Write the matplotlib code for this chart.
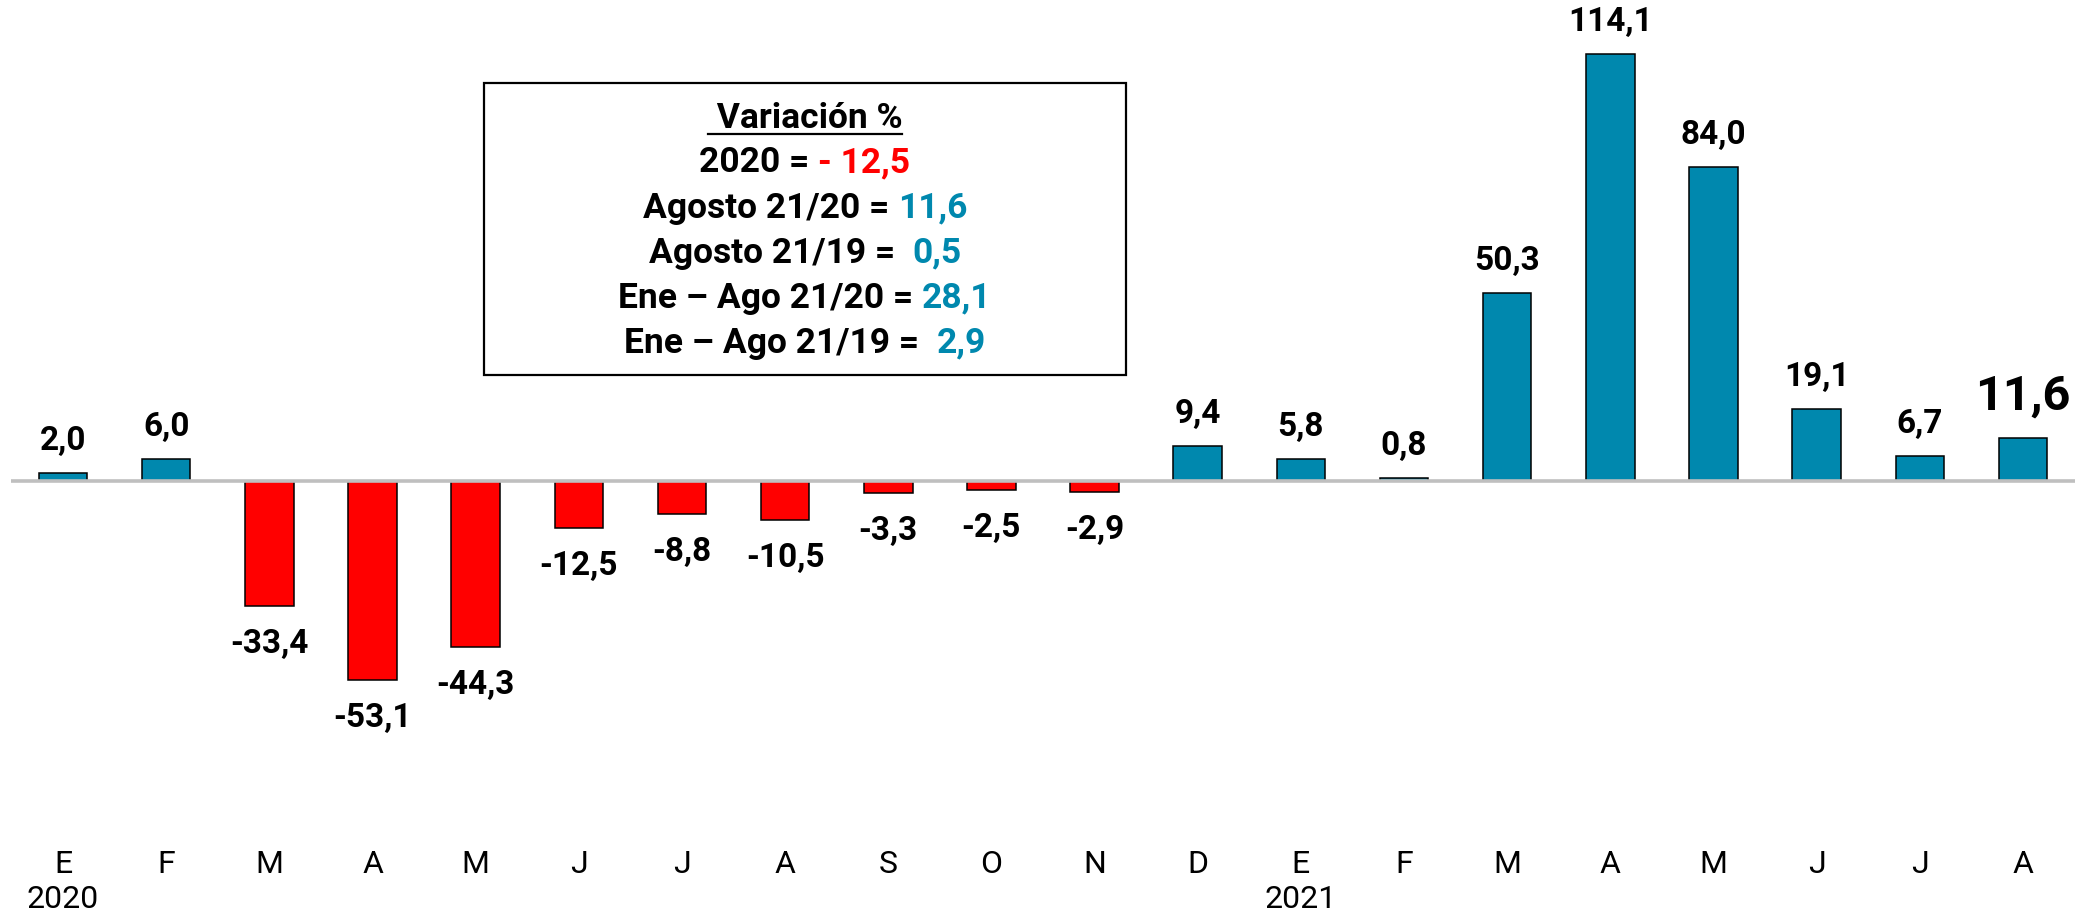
import numpy as np
import matplotlib
matplotlib.use("Agg")
import matplotlib.pyplot as plt
from matplotlib.patches import Rectangle
from matplotlib.lines import Line2D

# data
months = ["E", "F", "M", "A", "M", "J", "J", "A", "S", "O", "N", "D",
          "E", "F", "M", "A", "M", "J", "J", "A"]
years = {0: "2020", 12: "2021"}
values = [2.0, 6.0, -33.4, -53.1, -44.3, -12.5, -8.8, -10.5, -3.3, -2.5, -2.9, 9.4,
          5.8, 0.8, 50.3, 114.1, 84.0, 19.1, 6.7, 11.6]

summary_labels = ["2020 = ", "Agosto 21/20 = ", "Agosto 21/19 =  ",
                  "Ene \u2013 Ago 21/20 = ", "Ene \u2013 Ago 21/19 =  "]
summary_values = ["- 12,5", "11,6", "0,5", "28,1", "2,9"]

BLUE = "#0088AE"
RED = "#FF0000"

W, H = 2082, 913
fig = plt.figure(figsize=(W / 100, H / 100), dpi=100)

# axes placed so that 0 sits at y=481px and 1 unit = ~3.74px
ax = fig.add_axes([11.4 / W, 0.0838, 2063.2 / W, 0.9018])
x = np.arange(len(values))
colors = [BLUE if v >= 0 else RED for v in values]
ax.bar(x, values, width=0.47, color=colors, edgecolor="black", linewidth=1.1, zorder=2)
ax.axhline(0, color="#BFBFBF", linewidth=2.6, zorder=3)
ax.set_xlim(-0.5, len(values) - 0.5)
ax.set_ylim(-95, 125)

for s in ax.spines.values():
    s.set_visible(False)
ax.set_yticks([])
ticklabels = [m + ("\n" + years[i] if i in years else "") for i, m in enumerate(months)]
ax.set_xticks(x)
ax.set_xticklabels(ticklabels, fontsize=23, family="Roboto", linespacing=1.25, va="top")
ax.tick_params(axis="x", length=0, pad=10)

# value labels
for i, v in enumerate(values):
    txt = f"{v:.1f}".replace(".", ",")
    big = i == len(values) - 1
    off = (41 if big else 32) if v >= 0 else -38
    ax.annotate(txt, xy=(i, v), xytext=(0, off), textcoords="offset pixels",
                ha="center", va="center", fontsize=35 if big else 24,
                family="Roboto", fontweight="bold", color="black")

# summary box
def px(xp, yp):
    return xp / W, 1 - yp / H

box_l, box_r, box_t, box_b = 484, 1126, 83, 375
fig.patches.append(Rectangle(px(box_l, box_b), (box_r - box_l) / W, (box_b - box_t) / H,
                             transform=fig.transFigure, facecolor="white",
                             edgecolor="black", linewidth=1.6, zorder=5))

fig.canvas.draw()
renderer = fig.canvas.get_renderer()
kw = dict(fontsize=25.5, family="Roboto", fontweight="bold")

def width(s):
    t1 = fig.text(0, 0, "|" + s + "|", **kw)
    t2 = fig.text(0, 0, "||", **kw)
    w = t1.get_window_extent(renderer).width - t2.get_window_extent(renderer).width
    t1.remove()
    t2.remove()
    return w

cx = (box_l + box_r) / 2
row_y = [118, 163, 208, 253, 298, 343]

# header, underlined
head = " Variaci\u00f3n %"
hw = width(head)
fig.text(*px(cx - hw / 2, row_y[0]), head, ha="left", va="center", zorder=6, **kw)
fig.lines.append(Line2D([(cx - hw / 2) / W, (cx + hw / 2) / W], [1 - 134 / H] * 2,
                        transform=fig.transFigure, color="black", linewidth=1.6, zorder=6))

for j, (lab, val) in enumerate(zip(summary_labels, summary_values)):
    w1 = width(lab)
    w2 = width(val)
    x0 = cx - (w1 + w2) / 2
    y = row_y[j + 1]
    fig.text(*px(x0, y), lab, ha="left", va="center", color="black", zorder=6, **kw)
    fig.text(*px(x0 + w1, y), val, ha="left", va="center",
             color=RED if j == 0 else BLUE, zorder=6, **kw)

fig.savefig("out.png", dpi=100)
